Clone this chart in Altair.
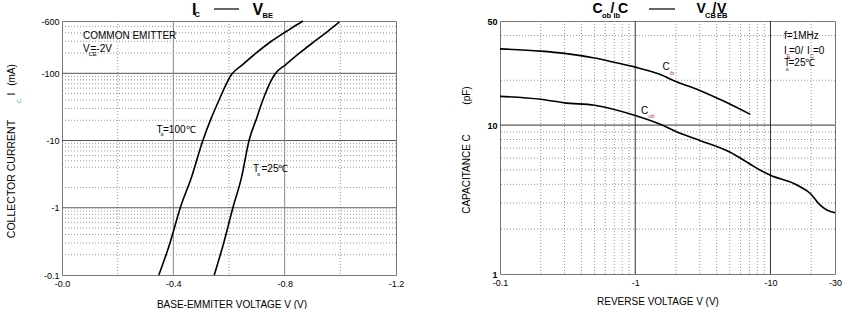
import altair as alt
import pandas as pd

FONT = "Liberation Sans"

# ---------------- data: left chart (IC - VBE) ----------------
t100_vbe = [0.348, 0.388, 0.425, 0.465, 0.506, 0.537, 0.560, 0.609, 0.649, 0.698, 0.752, 0.807, 0.860, 0.866]
t100_ic = [0.1, 0.3, 1, 2.83, 10, 21.9, 36.5, 96, 135, 201, 300, 422, 580, 600]
t25_vbe = [0.547, 0.581, 0.614, 0.645, 0.672, 0.700, 0.718, 0.764, 0.804, 0.854, 0.908, 0.955, 0.997]
t25_ic = [0.1, 0.3, 1, 2.83, 10, 21.9, 36.5, 96, 135, 201, 300, 422, 580]

left_x_ticks = [0.0, 0.4, 0.8, 1.2]
left_y_ticks = [0.1, 1, 10, 100, 600]
left_x_solid = [0.4, 0.8]
left_x_dotted = [0.2, 0.6, 1.0]
left_y_solid = [1, 10, 100]
left_y_dotted = [0.2, 0.3, 0.4, 0.5, 0.6, 0.7, 0.8, 0.9,
                 2, 4, 5, 6, 7, 8, 9,
                 20, 30, 40, 50, 60, 70, 80, 90,
                 200, 300, 400, 500]

# ---------------- data: right chart (Cob/Cib - V) ----------------
cib_v = [0.1, 0.2, 0.3, 0.5, 0.7, 1.0, 1.5, 2.0, 3.0, 4.5, 7.1]
cib_c = [32.5, 31.4, 30.3, 28.2, 26.4, 24.5, 22.0, 19.6, 17.1, 14.5, 11.8]
cob_v = [0.1, 0.2, 0.3, 0.5, 1.0, 1.5, 2.0, 3.0, 5.0, 7.0, 8.43, 10, 15, 16.7, 19.8, 22.8, 26.3, 30]
cob_c = [15.6, 14.9, 14.1, 13.6, 11.6, 10.2, 9.06, 7.89, 6.59, 5.5, 4.97, 4.6, 4.04, 3.84, 3.46, 2.96, 2.68, 2.58]

right_x_ticks = [0.1, 1, 10, 30]
right_y_ticks = [1, 10, 50]
right_x_solid = [1, 10]
right_x_dotted = [0.2, 0.3, 0.4, 0.5, 0.6, 0.7, 0.8, 0.9, 2, 3, 4, 5, 6, 7, 8, 9, 20]
right_y_solid = [10]
right_y_dotted = [2, 3, 4, 5, 6, 7, 8, 9, 20, 40]

one = pd.DataFrame({"k": [0]})

# plot-area origins in window pixels (for annotation placement)
LX, LY = 62, 19
RX, RY = 500, 19
LW, LH = 334, 254
RW, RH = 335, 253


def txt(s, x, y, ox, oy, size=10, weight="normal", color="black", angle=0, align="left"):
    return alt.Chart(one).mark_text(
        text=s, font=FONT, fontSize=size, fontWeight=weight, color=color,
        align=align, baseline="middle", angle=angle
    ).encode(x=alt.value(x - ox), y=alt.value(y - oy))


def dash(x1, x2, y, ox, oy):
    return alt.Chart(one).mark_rule(color="black", strokeWidth=1.2).encode(
        x=alt.value(x1 - ox), x2=alt.value(x2 - ox), y=alt.value(y - oy))


axis_common = dict(grid=False, ticks=False, domain=False, labelFont=FONT, labelFontSize=9,
                   labelColor="black", labelFlush=False, labelOverlap=False, title=None)

lxa = alt.Axis(values=left_x_ticks, labelPadding=4,
               labelExpr="'-' + format(datum.value, '.1f')", **axis_common)
lya = alt.Axis(values=left_y_ticks, labelPadding=3,
               labelExpr="'-' + datum.value", **axis_common)
rxa = alt.Axis(values=right_x_ticks, labelPadding=4,
               labelExpr="'-' + datum.value", **axis_common)
rya = alt.Axis(values=right_y_ticks, labelPadding=3, labelFontWeight="bold",
               labelExpr="'' + datum.value", **axis_common)


def hrules(vals, scale, axis, color, dashed):
    m = alt.Chart(pd.DataFrame({"v": vals})).mark_rule(
        color=color, strokeWidth=1, strokeDash=[1, 2] if dashed else [1, 0])
    return m.encode(y=alt.Y("v:Q", scale=scale, axis=axis))


def vrules(vals, scale, axis, color, dashed):
    m = alt.Chart(pd.DataFrame({"v": vals})).mark_rule(
        color=color, strokeWidth=1, strokeDash=[1, 2] if dashed else [1, 0])
    return m.encode(x=alt.X("v:Q", scale=scale, axis=axis))


# ---------------- left chart ----------------
lxs = alt.Scale(domain=[0, 1.2], nice=False, zero=False)
lys = alt.Scale(type="log", domain=[0.1, 600], nice=False)

left_df = pd.concat([
    pd.DataFrame({"x": t100_vbe, "y": t100_ic, "s": "Ta=100"}),
    pd.DataFrame({"x": t25_vbe, "y": t25_ic, "s": "Ta=25"}),
])

left_lines = alt.Chart(left_df).mark_line(color="black", strokeWidth=1.6, interpolate="monotone").encode(
    x=alt.X("x:Q", scale=lxs, axis=lxa),
    y=alt.Y("y:Q", scale=lys, axis=lya),
    detail="s:N",
)

left_layers = [
    hrules(left_y_dotted, lys, lya, "#999999", True),
    vrules(left_x_dotted, lxs, lxa, "#999999", True),
    hrules(left_y_solid, lys, lya, "#555555", False),
    vrules(left_x_solid, lxs, lxa, "#888888", False),
    left_lines,
    # title
    txt("I", 192, 8, LX, LY, size=16, weight="bold"),
    txt("C", 194.5, 13, LX, LY, size=7.5, weight="bold"),
    dash(214, 239, 7, LX, LY),
    txt("V", 252.5, 8, LX, LY, size=16, weight="bold"),
    txt("BE", 262.5, 13.5, LX, LY, size=7.5, weight="bold"),
    # annotations
    txt("COMMON EMITTER", 83, 34, LX, LY),
    txt("V", 83, 47, LX, LY),
    txt("CE", 88.5, 51.5, LX, LY, size=6),
    txt("=-2V", 90.5, 47, LX, LY),
    txt("T", 156.5, 127.5, LX, LY),
    txt("a", 160.5, 132, LX, LY, size=5.5, color="#223366"),
    txt("=100\u2103", 163, 127.5, LX, LY),
    txt("T", 253, 167, LX, LY),
    txt("a", 257, 171.5, LX, LY, size=5.5, color="#223366"),
    txt("=25\u2103", 261.5, 167, LX, LY),
    # axis titles
    txt("COLLECTOR  CURRENT", 12, 177, LX, LY, size=10.5, angle=270, align="center"),
    txt("I", 12, 92, LX, LY, size=10.5, angle=270, align="center"),
    txt("C", 19, 99, LX, LY, size=5.5, angle=270, align="center", color="#3399cc"),
    txt("(mA)", 12, 73, LX, LY, angle=270, align="center"),
    txt("BASE-EMMITER VOLTAGE V (V)", 232, 303, LX, LY, align="center"),
]
left = alt.layer(*left_layers).properties(width=LW, height=LH)

# ---------------- right chart ----------------
rxs = alt.Scale(type="log", domain=[0.1, 30], nice=False)
rys = alt.Scale(type="log", domain=[1, 50], nice=False)

right_df = pd.concat([
    pd.DataFrame({"x": cib_v, "y": cib_c, "s": "Cib"}),
    pd.DataFrame({"x": cob_v, "y": cob_c, "s": "Cob"}),
])

right_lines = alt.Chart(right_df).mark_line(color="black", strokeWidth=1.6, interpolate="monotone").encode(
    x=alt.X("x:Q", scale=rxs, axis=rxa),
    y=alt.Y("y:Q", scale=rys, axis=rya),
    detail="s:N",
)

right_layers = [
    hrules(right_y_dotted, rys, rya, "#999999", True),
    vrules(right_x_dotted, rxs, rxa, "#999999", True),
    hrules(right_y_solid, rys, rya, "#333333", False),
    vrules(right_x_solid, rxs, rxa, "#333333", False),
    right_lines,
    # title
    txt("C", 592.5, 7, RX, RY, size=14, weight="bold"),
    txt("ob", 602, 14, RX, RY, size=7.5, weight="bold"),
    txt("/", 610.5, 7, RX, RY, size=14, weight="bold"),
    txt("Ib", 613.5, 14, RX, RY, size=7.5, weight="bold"),
    txt("C", 618, 7, RX, RY, size=14, weight="bold"),
    dash(649, 675, 7, RX, RY),
    txt("V", 696.5, 7, RX, RY, size=14, weight="bold"),
    txt("CB", 705, 13.5, RX, RY, size=7.5, weight="bold"),
    txt("/", 712.5, 7, RX, RY, size=14, weight="bold"),
    txt("V", 717, 7, RX, RY, size=14, weight="bold"),
    txt("EB", 717, 13.5, RX, RY, size=7.5, weight="bold"),
    # annotations
    txt("f=1MHz", 784, 33.5, RX, RY),
    txt("I", 784, 48.5, RX, RY),
    txt("E", 786.5, 54, RX, RY, size=5.5, color="#aa3333"),
    txt("=0/", 789, 48.5, RX, RY),
    txt("I", 807, 48.5, RX, RY),
    txt("C", 810, 54, RX, RY, size=5.5, color="#aa3333"),
    txt("=0", 813, 48.5, RX, RY),
    txt("T", 784, 60.5, RX, RY),
    txt("a", 785.5, 67, RX, RY, size=5.5, color="#226688"),
    txt("=25\u2103", 788.5, 60.5, RX, RY),
    txt("C", 662.5, 64.5, RX, RY),
    txt("ib", 670, 70.5, RX, RY, size=5.5, color="#bb3333"),
    txt("C", 641, 108.5, RX, RY),
    txt("ob", 648.5, 114, RX, RY, size=5.5, color="#bb3333"),
    # axis titles
    txt("CAPACITANCE C", 467, 172, RX, RY, angle=270, align="center"),
    txt("(pF)", 467, 93.5, RX, RY, angle=270, align="center"),
    txt("REVERSE VOLTAGE V (V)", 658, 299.5, RX, RY, align="center"),
]
right = alt.layer(*right_layers).properties(width=RW, height=RH)

chart = alt.hconcat(left, right, spacing=56).properties(
    padding={"left": 6, "top": 1, "right": 5, "bottom": 2}
).configure_view(stroke="#777777", strokeWidth=1)

chart.save("out.html", embed_options={"renderer": "svg", "actions": False})
